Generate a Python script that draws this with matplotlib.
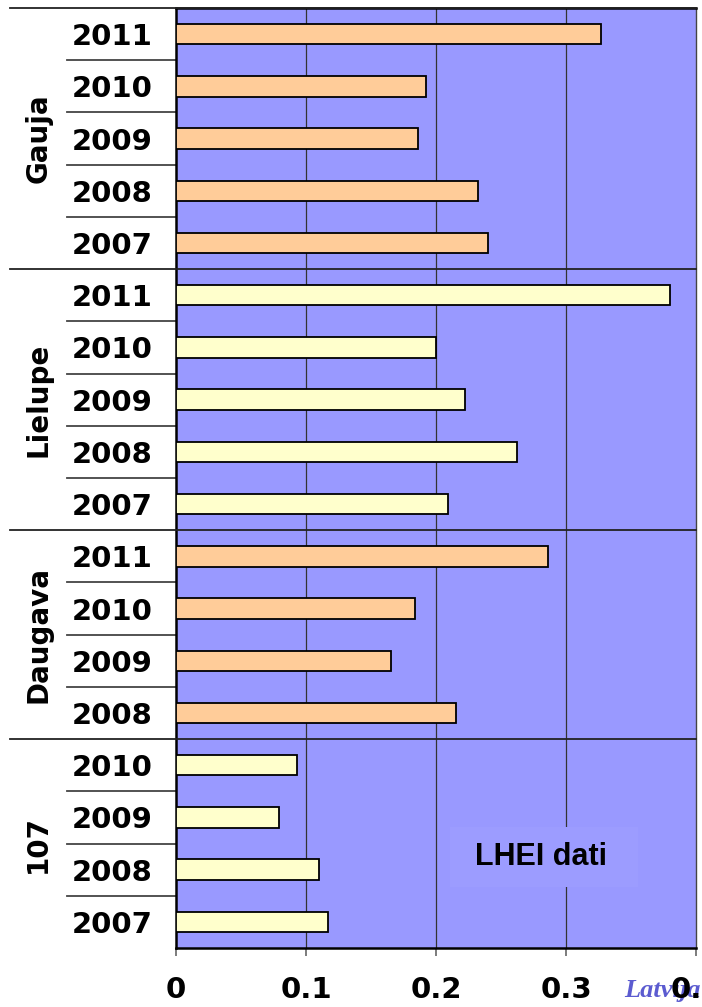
import numpy as np
import matplotlib.pyplot as plt
from matplotlib.patches import Rectangle

# data
groups = ["Gauja", "Lielupe", "Daugava", "107"]
group_years = [
    ["2011", "2010", "2009", "2008", "2007"],
    ["2011", "2010", "2009", "2008", "2007"],
    ["2011", "2010", "2009", "2008"],
    ["2010", "2009", "2008", "2007"],
]
group_values = [
    [0.327, 0.192, 0.186, 0.232, 0.240],
    [0.380, 0.200, 0.222, 0.262, 0.209],
    [0.286, 0.184, 0.165, 0.215],
    [0.093, 0.079, 0.110, 0.117],
]
group_colors = ["#FFCC99", "#FFFFCC", "#FFCC99", "#FFFFCC"]
xticks = [0, 0.1, 0.2, 0.3, 0.4]
xtick_labels = ["0", "0.1", "0.2", "0.3", "0.4"]

labels, values, colors = [], [], []
for yrs, vals, c in zip(group_years, group_values, group_colors):
    labels += yrs
    values += vals
    colors += [c] * len(vals)
n = len(values)
pos = np.arange(n)

fig = plt.figure(figsize=(7.02, 10.07), dpi=100)
ax = fig.add_axes([176 / 702, 59 / 1007, 520 / 702, 940 / 1007])
ax.set_zorder(2)
ax.set_facecolor("#9999FF")

ax.barh(pos, values, height=0.39, color=colors, edgecolor="black", linewidth=1.3, zorder=3)
ax.set_xlim(0, 0.4)
ax.set_ylim(n - 0.5, -0.5)

for xv in xticks[1:-1]:
    ax.axvline(xv, color="#333333", linewidth=0.9, zorder=1)

ax.set_yticks(pos)
ax.set_yticklabels(labels, fontsize=21, fontweight="bold")
ax.tick_params(axis="y", length=0, pad=17)
ax.set_xticks(xticks)
ax.set_xticklabels(xtick_labels, fontsize=21, fontweight="bold")
ax.tick_params(axis="x", direction="out", length=6, width=1.2, color="#666666", pad=14)

for side in ["left", "bottom", "top"]:
    ax.spines[side].set_linewidth(1.8)
    ax.spines[side].set_color("black")
ax.spines["right"].set_linewidth(1.0)
ax.spines["right"].set_color("#444444")

# separators between categories and between groups
trans = ax.get_yaxis_transform()
start = 0
for gi, vals in enumerate(group_values):
    end = start + len(vals)
    for b in range(start + 1, end):
        ax.plot([-0.21, 0], [b - 0.5, b - 0.5], transform=trans, color="#444444",
                linewidth=1.3, clip_on=False)
    ax.plot([-0.32, 1.0], [start - 0.5, start - 0.5], transform=trans, color="#222222",
            linewidth=1.3, clip_on=False, zorder=4)
    mid = (start + end - 1) / 2
    ax.text(-0.265, mid, groups[gi], transform=trans, rotation=90, ha="center", va="center",
            fontsize=20, fontweight="bold")
    start = end

# LHEI note box
ax.add_patch(Rectangle((450 / 702, 120 / 1007), 188 / 702, 60 / 1007, transform=fig.transFigure,
                       facecolor="#9C9CFF", edgecolor="none", zorder=5))
ax.text(541 / 702, 150 / 1007, "LHEI dati", transform=fig.transFigure, ha="center", va="center",
        fontsize=22, fontweight="bold", family="Liberation Sans", zorder=6)

# logo text sitting behind the last tick label
fig.text(624 / 702, 16 / 1007, "Latvija", ha="left", va="center", fontsize=19,
         style="italic", fontweight="bold", family="Liberation Serif", color="#5B5BD0", zorder=0)

fig.savefig("out.png", dpi=100)
